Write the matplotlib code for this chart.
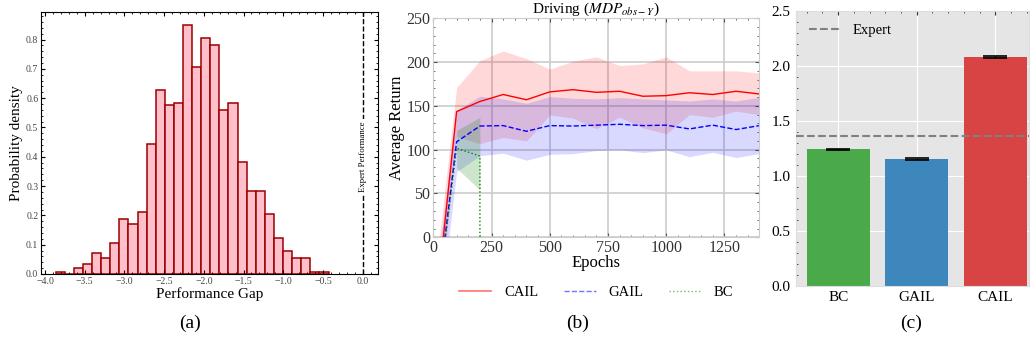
import numpy as np
import matplotlib
matplotlib.use("Agg")
import matplotlib.pyplot as plt
from matplotlib.lines import Line2D
from matplotlib.ticker import AutoMinorLocator, MultipleLocator

# ---- (a) histogram of performance gap ----
hist_start = -3.865
hist_width = 0.1145
hist_density = [0.008, 0.0, 0.019, 0.035, 0.070, 0.053, 0.107, 0.187, 0.169, 0.213,
                0.443, 0.629, 0.576, 0.585, 0.851, 0.708, 0.807, 0.781, 0.559, 0.585,
                0.381, 0.283, 0.283, 0.204, 0.124, 0.080, 0.053, 0.053, 0.008, 0.008]
expert_gap = 0.0

# ---- (b) learning curves ----
epochs = [0, 100, 200, 300, 400, 500, 600, 700, 800, 900, 1000, 1100, 1200, 1300, 1400]
cail_mean = [-108, 143.5, 155, 163, 157, 166, 168.5, 165.5, 166.7, 161, 161.7, 165, 163, 166.7, 163.6]
cail_lo = [-150, 115, 107, 114, 110, 139.6, 136, 124, 137, 125, 118, 140, 137, 144, 140]
cail_hi = [-60, 171, 201.7, 212.7, 204, 192, 201, 206, 196, 198, 206, 190, 190, 190, 187.6]
gail_mean = [-110, 109, 127, 127.5, 121, 127.5, 127, 128, 129, 127.5, 128, 123.7, 128, 123, 127.5]
gail_lo = [-150, 75, 93, 96, 88, 94.7, 95.5, 99, 99.7, 96.7, 99.7, 92, 97, 91, 95.5]
gail_hi = [-70, 145, 161, 158, 153, 160.6, 158.7, 158, 159.4, 158, 156.8, 155.6, 158, 155.6, 159.8]
bc_epochs = [0, 100, 200, 203]
bc_mean = [-110, 101.6, 92.8, -3000]
bc_band_epochs = [100, 200]
bc_lo = [79, 54]
bc_hi = [122, 137]

# ---- (c) normalized return bars ----
methods = ["BC", "GAIL", "CAIL"]
method_scores = [1.24, 1.15, 2.08]
method_err = [0.008, 0.008, 0.008]
expert_score = 1.365

plt.rcParams["font.family"] = ["Liberation Serif", "DejaVu Serif"]
plt.rcParams["mathtext.fontset"] = "stix"

fig = plt.figure(figsize=(10.31, 3.45), dpi=100)

# (a)
ax1 = fig.add_axes([0.0398, 0.2058, 0.3266, 0.7594])
edges = hist_start + hist_width * np.arange(len(hist_density))
ax1.bar(edges, hist_density, width=hist_width, align="edge",
        facecolor="#ffc0cb", edgecolor="#9b0000", linewidth=1.1)
ax1.axvline(expert_gap, color="black", linestyle="--", linewidth=1.0)
ax1.text(expert_gap, 0.4, "Expert Performance", rotation=90, ha="center", va="center",
         fontsize=6.3, bbox=dict(facecolor="white", edgecolor="none", pad=1.5))
ax1.set_xlim(-4.05, 0.19)
ax1.set_ylim(0, 0.894)
ax1.xaxis.set_major_locator(MultipleLocator(0.5))
ax1.yaxis.set_major_locator(MultipleLocator(0.1))
ax1.xaxis.set_minor_locator(AutoMinorLocator(5))
ax1.yaxis.set_minor_locator(AutoMinorLocator(5))
ax1.tick_params(which="both", direction="in", top=True, right=True, labelsize=7,
                labelcolor="#444444")
ax1.tick_params(which="major", length=3, pad=2)
ax1.tick_params(which="minor", length=1.5)
ax1.set_xlabel("Performance Gap", fontsize=11, labelpad=1)
ax1.set_ylabel("Probability density", fontsize=11, labelpad=2)

# (b)
ax2 = fig.add_axes([0.4203, 0.3122, 0.3162, 0.6348])
ax2.fill_between(epochs, cail_lo, cail_hi, color="red", alpha=0.15, linewidth=0)
ax2.fill_between(epochs, gail_lo, gail_hi, color="blue", alpha=0.15, linewidth=0)
ax2.fill_between(bc_band_epochs, bc_lo, bc_hi, color="green", alpha=0.2, linewidth=0)
ax2.plot(epochs, cail_mean, color="red", linestyle="-", linewidth=1.0)
ax2.plot(epochs, gail_mean, color="blue", linestyle="--", linewidth=1.0)
ax2.plot(bc_epochs, bc_mean, color="green", linestyle=":", linewidth=1.0)
ax2.set_xlim(0, 1400)
ax2.set_ylim(0, 250)
ax2.xaxis.set_major_locator(MultipleLocator(250))
ax2.yaxis.set_major_locator(MultipleLocator(50))
ax2.xaxis.set_minor_locator(AutoMinorLocator(5))
ax2.yaxis.set_minor_locator(AutoMinorLocator(5))
ax2.grid(True, which="major", color="#cccccc", linewidth=1.2)
ax2.set_axisbelow(True)
for s in ax2.spines.values():
    s.set_color("#cccccc")
ax2.tick_params(which="both", direction="in", top=True, right=True, labelsize=11.5,
                color="#555555", labelcolor="#333333", pad=2)
ax2.tick_params(which="major", length=3)
ax2.tick_params(which="minor", length=1.5)
ax2.set_title(r"Driving ($MDP_{obs-Y}$)", fontsize=11, pad=3)
ax2.set_xlabel("Epochs", fontsize=12, labelpad=-1)
ax2.set_ylabel("Average Return", fontsize=12, labelpad=1)
handles = [Line2D([], [], color="red", linestyle="-", alpha=0.55, linewidth=1.2),
           Line2D([], [], color="blue", linestyle="--", alpha=0.55, linewidth=1.0),
           Line2D([], [], color="green", linestyle=":", alpha=0.55, linewidth=1.0)]
ax2.legend(handles, ["CAIL", "GAIL", "BC"], loc="upper center", bbox_to_anchor=(0.5, -0.16),
           ncol=3, frameon=False, fontsize=10.5, handlelength=2.2, handletextpad=0.9,
           columnspacing=1.7)

# (c)
ax3 = fig.add_axes([0.7718, 0.1719, 0.2266, 0.7962])
ax3.set_facecolor("#e5e5e5")
bar_colors = ["#4aaa4a", "#3d87bd", "#d84444"]
xpos = np.arange(len(methods))
ax3.bar(xpos, method_scores, width=0.8, color=bar_colors, zorder=2)
ax3.errorbar(xpos, method_scores, yerr=method_err, fmt="none", ecolor="black",
             elinewidth=1.0, capsize=8.5, capthick=1.2, zorder=3)
ax3.axhline(expert_score, color="gray", linestyle="--", linewidth=1.5, label="Expert", zorder=3)
ax3.set_xlim(-0.54, 2.433)
ax3.set_ylim(0, 2.5)
ax3.set_xticks(xpos)
ax3.set_xticklabels(methods)
ax3.yaxis.set_major_locator(MultipleLocator(0.5))
ax3.yaxis.set_minor_locator(AutoMinorLocator(5))
ax3.xaxis.set_minor_locator(MultipleLocator(0.2))
ax3.grid(True, which="major", color="white", linewidth=0.8, zorder=0)
ax3.set_axisbelow(True)
for s in ax3.spines.values():
    s.set_color("#dddddd")
ax3.tick_params(which="both", direction="in", top=True, right=False, labelsize=11,
                color="#333333")
ax3.tick_params(axis="x", which="major", bottom=False, length=3)
ax3.tick_params(axis="x", which="minor", bottom=False, length=1.5)
ax3.tick_params(axis="y", which="major", length=0)
ax3.tick_params(axis="y", which="minor", length=1.5)
ax3.legend(loc="upper left", frameon=False, fontsize=10.5, handlelength=2.2)

# subplot labels
fig.text(0.184, 0.062, "(a)", ha="center", va="center", fontsize=14)
fig.text(0.560, 0.062, "(b)", ha="center", va="center", fontsize=14)
fig.text(0.884, 0.062, "(c)", ha="center", va="center", fontsize=14)

fig.savefig("out.png", dpi=100)
